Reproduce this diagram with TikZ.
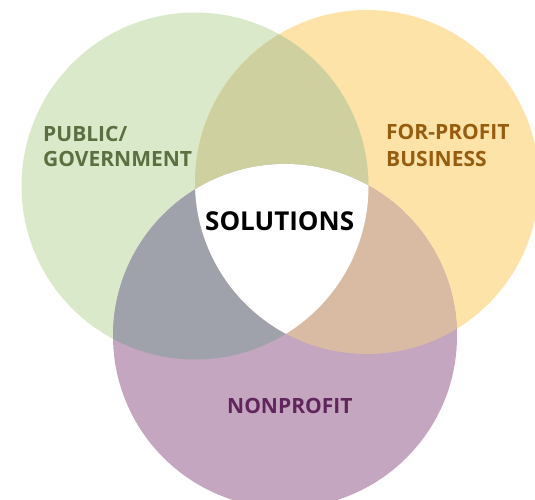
\documentclass[tikz,border=0pt]{standalone}
\usepackage{fontspec}
\setmainfont{Open Sans}
\definecolor{cGreen}{RGB}{218,233,201}
\definecolor{cOrange}{RGB}{253,227,168}
\definecolor{cPurple}{RGB}{196,166,192}
\definecolor{cGO}{RGB}{206,209,159}
\definecolor{cGP}{RGB}{160,162,171}
\definecolor{cOP}{RGB}{217,187,163}
\definecolor{tGreen}{RGB}{90,112,64}
\definecolor{tBrown}{RGB}{152,92,14}
\definecolor{tPurple}{RGB}{96,38,92}
\tikzset{
  lbl/.style={inner sep=0pt, anchor=base west, font=\fontsize{21}{24}\selectfont\bfseries},
  sol/.style={inner sep=0pt, anchor=base west, font=\fontsize{26}{30}\selectfont\bfseries, text=black}
}
\begin{document}
\begin{tikzpicture}[x=1pt,y=-1pt]
\useasboundingbox (0,0) rectangle (535,499);
\def\RG{173.5}
\def\RO{172}
\def\RP{172}
\coordinate (G) at (195,186);
\coordinate (O) at (367,182);
\coordinate (P) at (285,336);
% base circles
\fill[cGreen] (G) circle[radius=\RG];
\fill[cOrange] (O) circle[radius=\RO];
\fill[cPurple] (P) circle[radius=\RP];
% pairwise overlaps
\begin{scope}
  \clip (G) circle[radius=\RG];
  \fill[cGO] (O) circle[radius=\RO];
  \fill[cGP] (P) circle[radius=\RP];
\end{scope}
\begin{scope}
  \clip (O) circle[radius=\RO];
  \fill[cOP] (P) circle[radius=\RP];
\end{scope}
% triple overlap
\begin{scope}
  \clip (G) circle[radius=\RG];
  \clip (O) circle[radius=\RO];
  \fill[white] (P) circle[radius=\RP];
\end{scope}
% labels
\node[lbl, text=tGreen] (pub1) at (43,141.7) {PUBLIC/};
\node[lbl, text=tGreen] (pub2) at (43,166.5) {GOVERNMENT};
\node[lbl, text=tBrown] (fp1) at (386,139.3) {FOR-PROFIT};
\node[lbl, text=tBrown] (fp2) at (386,166.5) {BUSINESS};
\node[lbl, text=tPurple] (np) at (227,413) {NONPROFIT};
\node[sol] (solutions) at (205,230.7) {SOLUTIONS};
\end{tikzpicture}
\end{document}
